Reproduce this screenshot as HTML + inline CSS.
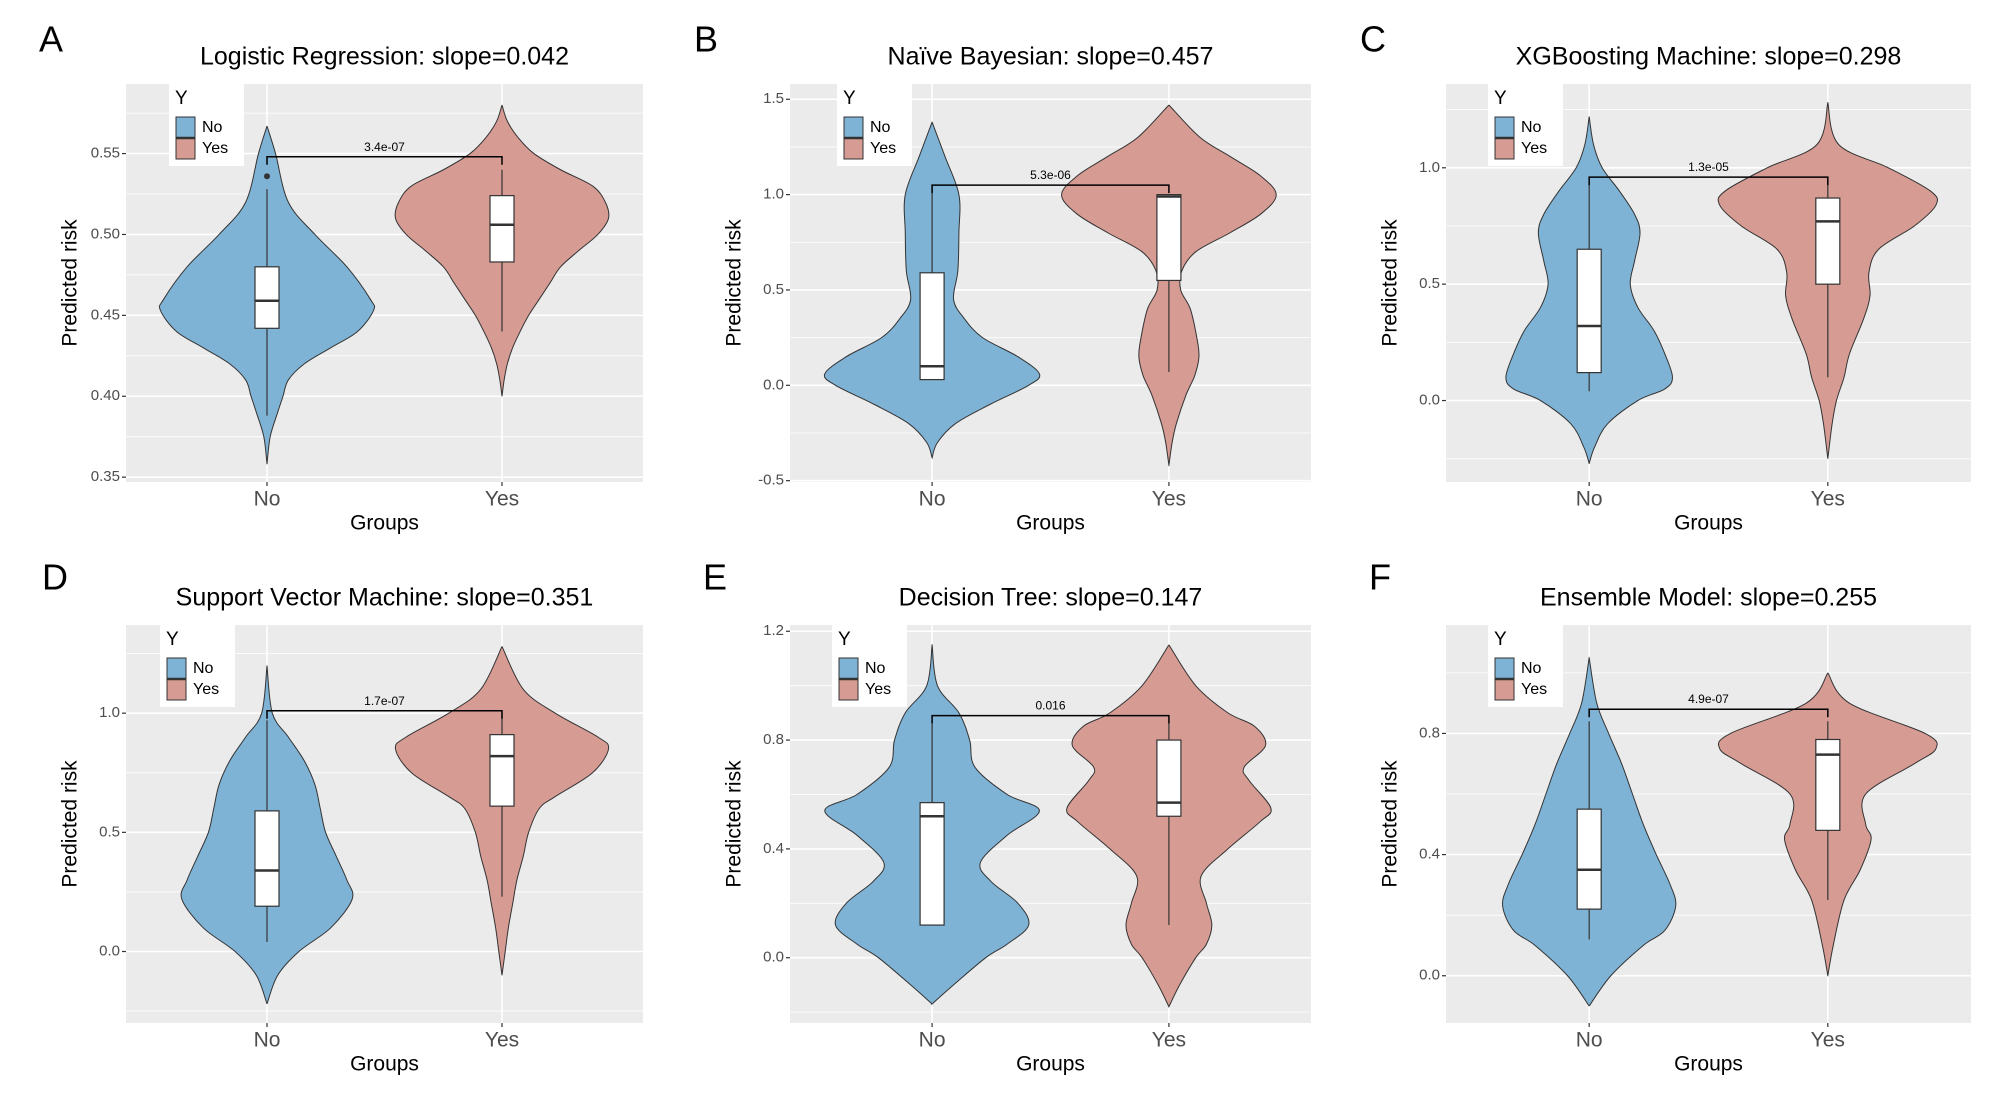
<!DOCTYPE html>
<html><head><meta charset="utf-8">
<style>
html,body{margin:0;padding:0;background:#fff;}
svg{display:block;font-family:"Liberation Sans",sans-serif;}
</style></head>
<body>
<svg id="fig" width="1991" height="1113" viewBox="0 0 1991 1113" xmlns="http://www.w3.org/2000/svg"></svg>
<script>
// ---- data ----
const panelLetters = ["A","B","C","D","E","F"];
const panelTitles = ["Logistic Regression: slope=0.042","Naïve Bayesian: slope=0.457","XGBoosting Machine: slope=0.298","Support Vector Machine: slope=0.351","Decision Tree: slope=0.147","Ensemble Model: slope=0.255"];
const categories = ["No","Yes"];
const yDomains = [[0.347,0.593],[-0.507,1.58],[-0.35,1.36],[-0.30,1.37],[-0.24,1.223],[-0.156,1.158]];
const yTicks = [[0.35,0.40,0.45,0.50,0.55],[-0.5,0,0.5,1.0,1.5],[0,0.5,1.0],[0,0.5,1.0],[0,0.4,0.8,1.2],[0,0.4,0.8]];
const yTickLabels = [["0.35","0.40","0.45","0.50","0.55"],["-0.5","0.0","0.5","1.0","1.5"],["0.0","0.5","1.0"],["0.0","0.5","1.0"],["0.0","0.4","0.8","1.2"],["0.0","0.4","0.8"]];
const pValues = ["3.4e-07","5.3e-06","1.3e-05","1.7e-07","0.016","4.9e-07"];
const bracketY = [0.548,1.05,0.96,1.01,0.89,0.88];
// density profiles: [value, relative half-width]
const violinNo = [
 [[0.567,0],[0.55,0.08],[0.52,0.2],[0.5,0.45],[0.48,0.75],[0.46,0.97],[0.453,1],[0.44,0.85],[0.43,0.6],[0.42,0.35],[0.41,0.2],[0.40,0.15],[0.39,0.1],[0.375,0.03],[0.358,0]],
 [[1.38,0],[1.2,0.12],[1.0,0.25],[0.8,0.25],[0.6,0.24],[0.45,0.2],[0.35,0.3],[0.25,0.47],[0.15,0.8],[0.06,1],[0,0.9],[-0.1,0.54],[-0.2,0.22],[-0.3,0.05],[-0.38,0]],
 [[1.22,0],[1.1,0.04],[1.0,0.12],[0.9,0.28],[0.8,0.42],[0.72,0.47],[0.6,0.42],[0.5,0.38],[0.4,0.45],[0.3,0.6],[0.2,0.7],[0.1,0.77],[0.05,0.7],[0,0.45],[-0.1,0.17],[-0.2,0.05],[-0.27,0]],
 [[1.2,0],[1.0,0.05],[0.9,0.2],[0.8,0.35],[0.7,0.45],[0.6,0.5],[0.5,0.55],[0.4,0.65],[0.3,0.75],[0.22,0.8],[0.1,0.6],[0,0.3],[-0.1,0.1],[-0.22,0]],
 [[1.15,0],[1.0,0.05],[0.9,0.25],[0.8,0.35],[0.7,0.4],[0.6,0.7],[0.54,1],[0.45,0.7],[0.35,0.45],[0.28,0.55],[0.2,0.8],[0.12,0.9],[0.05,0.7],[0,0.5],[-0.1,0.2],[-0.17,0]],
 [[1.05,0],[0.9,0.07],[0.8,0.18],[0.7,0.3],[0.6,0.4],[0.5,0.5],[0.4,0.62],[0.3,0.75],[0.23,0.8],[0.15,0.7],[0.1,0.5],[0,0.2],[-0.1,0]]
];
const violinYes = [
 [[0.58,0],[0.57,0.05],[0.56,0.15],[0.55,0.3],[0.54,0.55],[0.53,0.85],[0.52,0.97],[0.51,1],[0.5,0.9],[0.49,0.72],[0.48,0.55],[0.47,0.45],[0.46,0.35],[0.45,0.25],[0.44,0.17],[0.43,0.1],[0.42,0.05],[0.41,0.02],[0.40,0]],
 [[1.47,0],[1.3,0.29],[1.2,0.57],[1.1,0.85],[1.0,1],[0.9,0.86],[0.8,0.57],[0.7,0.25],[0.6,0.12],[0.5,0.11],[0.4,0.2],[0.25,0.26],[0.15,0.28],[0.05,0.24],[-0.05,0.16],[-0.2,0.07],[-0.3,0.03],[-0.42,0]],
 [[1.28,0],[1.1,0.1],[1.0,0.56],[0.9,0.95],[0.84,1],[0.75,0.8],[0.65,0.47],[0.55,0.38],[0.45,0.39],[0.35,0.33],[0.2,0.2],[0.1,0.15],[0,0.08],[-0.1,0.04],[-0.25,0]],
 [[1.28,0],[1.1,0.2],[1.0,0.5],[0.9,0.9],[0.85,1],[0.75,0.85],[0.65,0.5],[0.6,0.35],[0.5,0.25],[0.4,0.2],[0.3,0.14],[0.2,0.1],[0.1,0.06],[0,0.03],[-0.1,0]],
 [[1.15,0],[1.0,0.25],[0.9,0.55],[0.85,0.8],[0.78,0.9],[0.7,0.7],[0.65,0.75],[0.55,0.95],[0.5,0.85],[0.4,0.55],[0.3,0.3],[0.2,0.35],[0.12,0.4],[0.05,0.35],[0,0.25],[-0.1,0.1],[-0.18,0]],
 [[1.0,0],[0.9,0.2],[0.8,0.9],[0.75,1],[0.7,0.8],[0.6,0.35],[0.5,0.35],[0.45,0.4],[0.35,0.3],[0.25,0.15],[0.1,0.05],[0,0]]
];
// box stats: [whiskerLow, q1, median, q3, whiskerHigh]
const boxNo = [[0.388,0.442,0.459,0.480,0.528],[0.03,0.03,0.10,0.59,1.03],[0.04,0.12,0.32,0.65,0.93],[0.04,0.19,0.34,0.59,0.97],[0.12,0.12,0.52,0.57,0.86],[0.12,0.22,0.35,0.55,0.84]];
const boxYes = [[0.44,0.483,0.506,0.524,0.54],[0.07,0.55,0.99,1.0,1.0],[0.1,0.5,0.77,0.87,0.96],[0.23,0.61,0.82,0.91,1.0],[0.12,0.52,0.57,0.80,0.86],[0.25,0.48,0.73,0.78,0.84]];
const outliersNo = [[0.536],[],[],[],[],[]];

// ---- layout ----
const colL=[126,790,1446], colR=[643,1311,1971], rowT=[84,625], rowB=[482,1023];
const letterPos=[[51,42],[706,42],[1373,42],[55,580],[715,580],[1380,580]];
const legendOff=[43,47,42,34,42,42];
const BLUE="#7fb3d5", RED="#d69b93";
const NS="http://www.w3.org/2000/svg";
const svg=document.getElementById('fig');
function el(tag,attrs,parent,text){const e=document.createElementNS(NS,tag);for(const k in attrs)e.setAttribute(k,attrs[k]);if(text!==undefined)e.textContent=text;(parent||svg).appendChild(e);return e;}
function smoothPath(pts){
 let d="M"+pts[0][0]+","+pts[0][1];
 for(let i=0;i<pts.length-1;i++){const p0=pts[Math.max(i-1,0)],p1=pts[i],p2=pts[i+1],p3=pts[Math.min(i+2,pts.length-1)];
  const c1=[p1[0]+(p2[0]-p0[0])/6,p1[1]+(p2[1]-p0[1])/6],c2=[p2[0]-(p3[0]-p1[0])/6,p2[1]-(p3[1]-p1[1])/6];
  d+=" C"+c1[0].toFixed(2)+","+c1[1].toFixed(2)+" "+c2[0].toFixed(2)+","+c2[1].toFixed(2)+" "+p2[0].toFixed(2)+","+p2[1].toFixed(2);}
 return d;}

for(let p=0;p<6;p++){
 const c=p%3,r=Math.floor(p/3);
 const L=colL[c],R=colR[c],T=rowT[r],B=rowB[r];
 const g=el('g',{});
 
 
 const [d0,d1]=yDomains[p];
 const y=v=>B-(v-d0)/(d1-d0)*(B-T);
 const xc=[L+(R-L)*0.6/2.2,L+(R-L)*1.6/2.2];
 const hw=(R-L)*0.206;
 const lt=el('text',{x:letterPos[p][0],y:letterPos[p][1],'font-size':36,'text-anchor':'middle','dominant-baseline':'middle',fill:'#000'},g,panelLetters[p]);
  
 const tt=el('text',{x:(L+R)/2,y:T-26,'font-size':25,'text-anchor':'middle','dominant-baseline':'middle',fill:'#000'},g,panelTitles[p]);
  
 const bg=el('rect',{x:L,y:T,width:R-L,height:B-T,fill:'#ebebeb'},g);
  
 const tk=yTicks[p];
 const step=tk[1]-tk[0];
 for(let v=tk[0]-step*3;v<=d1+step;v+=step/2){
  if(v<d0||v>d1)continue;
  const major=tk.some(t=>Math.abs(t-v)<1e-9);
  el('line',{x1:L,x2:R,y1:y(v),y2:y(v),stroke:'#fff','stroke-width':major?1.6:0.8},g);
 }
 xc.forEach(xx=>el('line',{x1:xx,x2:xx,y1:T,y2:B,stroke:'#fff','stroke-width':1.6},g));
 tk.forEach((v,i)=>{
  el('line',{x1:L-4,x2:L,y1:y(v),y2:y(v),stroke:'#333','stroke-width':1.2},g);
  const t=el('text',{x:L-6,y:y(v),'font-size':15,'text-anchor':'end','dominant-baseline':'middle',fill:'#4d4d4d'},g,yTickLabels[p][i]);
   
 });
 categories.forEach((cn,i)=>{
  el('line',{x1:xc[i],x2:xc[i],y1:B,y2:B+4,stroke:'#333','stroke-width':1.2},g);
  const t=el('text',{x:xc[i],y:B+18,'font-size':21,'text-anchor':'middle','dominant-baseline':'middle',fill:'#4d4d4d'},g,cn);
   
 });
 const xt=el('text',{x:(L+R)/2,y:B+42,'font-size':21,'text-anchor':'middle','dominant-baseline':'middle',fill:'#000'},g,'Groups');
  
 const yx=L-55;
 const yt=el('text',{x:yx,y:(T+B)/2,'font-size':21,'text-anchor':'middle','dominant-baseline':'middle',fill:'#000',transform:`rotate(-90 ${yx} ${(T+B)/2})`},g,'Predicted risk');
  
 [[violinNo[p],BLUE,boxNo[p]],[violinYes[p],RED,boxYes[p]]].forEach(([prof,col,bx],i)=>{
  const right=prof.map(([v,w])=>[xc[i]+w*hw,y(v)]);
  const left=prof.slice().reverse().map(([v,w])=>[xc[i]-w*hw,y(v)]);
  const d=smoothPath(right)+" L"+smoothPath(left).slice(1)+" Z";
  const vp=el('path',{d:d,fill:col,stroke:'#333','stroke-width':1},g);
   
  const bw=12;
  el('line',{x1:xc[i],x2:xc[i],y1:y(bx[0]),y2:y(bx[1]),stroke:'#333','stroke-width':1.2},g);
  el('line',{x1:xc[i],x2:xc[i],y1:y(bx[3]),y2:y(bx[4]),stroke:'#333','stroke-width':1.2},g);
  const br=el('rect',{x:xc[i]-bw,y:y(bx[3]),width:bw*2,height:y(bx[1])-y(bx[3]),fill:'#fff',stroke:'#333','stroke-width':1.2},g);
   
  el('line',{x1:xc[i]-bw,x2:xc[i]+bw,y1:y(bx[2]),y2:y(bx[2]),stroke:'#333','stroke-width':2.5},g);
 });
 outliersNo[p].forEach(v=>el('circle',{cx:xc[0],cy:y(v),r:3,fill:'#333'},g));
 const by=y(bracketY[p]);
 const bk=el('path',{d:`M${xc[0]},${by+8} L${xc[0]},${by} L${xc[1]},${by} L${xc[1]},${by+8}`,fill:'none',stroke:'#000','stroke-width':1.5},g);
  
 const pt=el('text',{x:(xc[0]+xc[1])/2,y:by-6,'font-size':12,'text-anchor':'middle',fill:'#000'},g,pValues[p]);
  
 const lx=L+legendOff[p],ly=T;
 const lg=el('g',{},g);
  
 el('rect',{x:lx,y:ly,width:75,height:82,fill:'#fff'},lg);
 el('text',{x:lx+6,y:ly+15,'font-size':19,'dominant-baseline':'middle',fill:'#000'},lg,'Y');
 el('rect',{x:lx+7,y:ly+33,width:19,height:21,fill:BLUE,stroke:'#333','stroke-width':1},lg);
 el('rect',{x:lx+7,y:ly+54,width:19,height:21,fill:RED,stroke:'#333','stroke-width':1},lg);
 el('line',{x1:lx+7,x2:lx+26,y1:ly+54,y2:ly+54,stroke:'#333','stroke-width':2.5},lg);
 const e1=el('text',{x:lx+33,y:ly+44,'font-size':16,'dominant-baseline':'middle',fill:'#000'},lg,'No');
  
 const e2=el('text',{x:lx+33,y:ly+65,'font-size':16,'dominant-baseline':'middle',fill:'#000'},lg,'Yes');
  
}
</script>
</body></html>
